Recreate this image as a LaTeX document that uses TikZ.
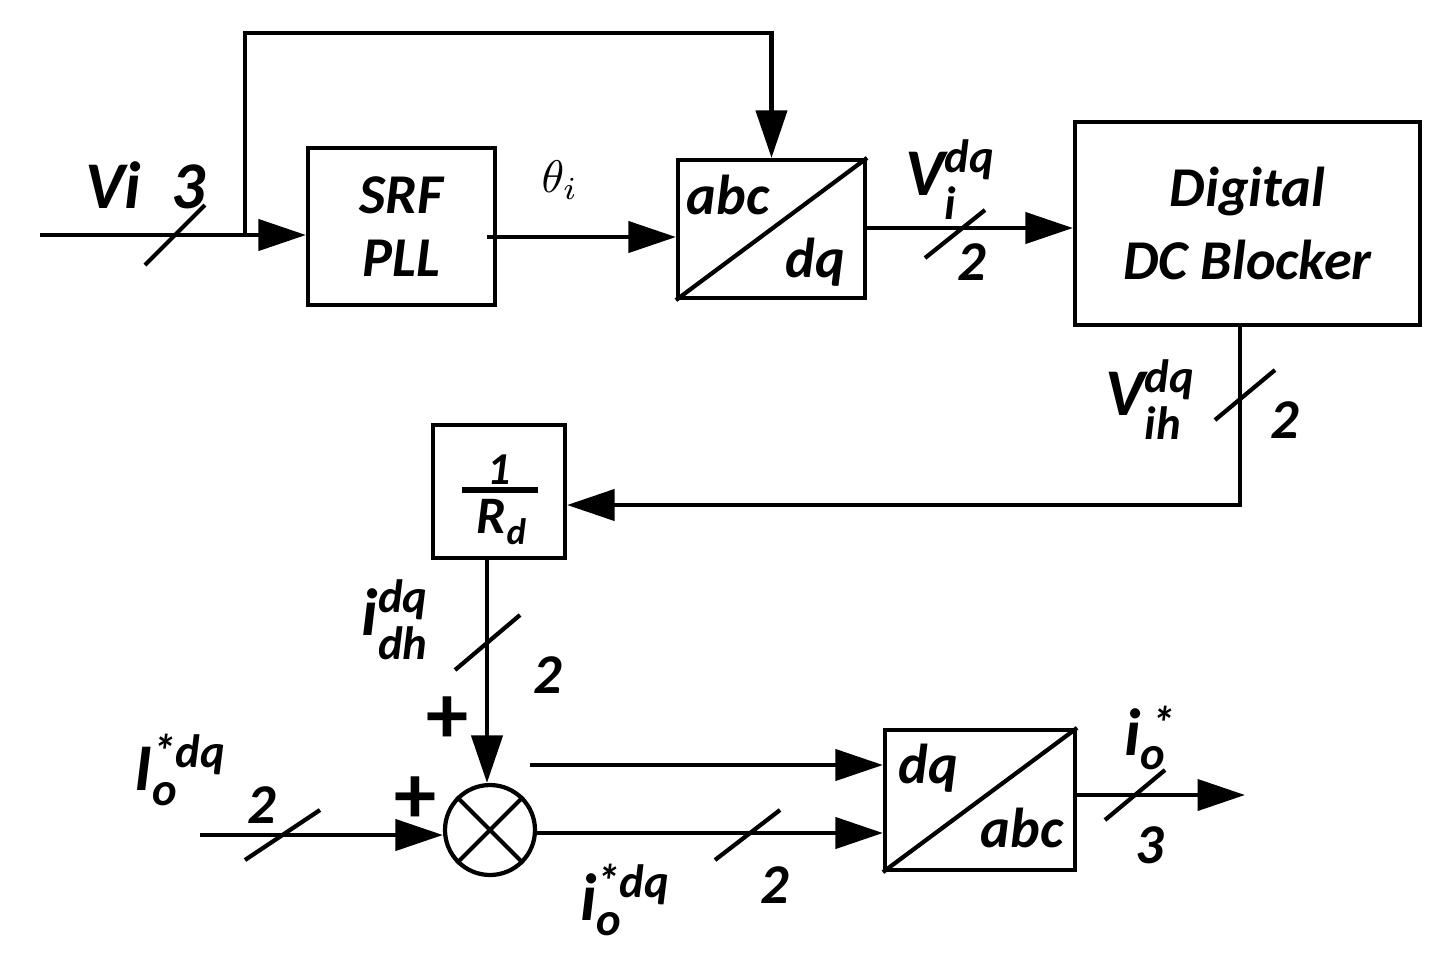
\documentclass[tikz,border=0pt]{standalone}
\usepackage{amsmath}
\usepackage{fontspec}
\setmainfont{Carlito}
\usetikzlibrary{arrows.meta}
\newcommand{\sig}[3]{{\bfseries\itshape #1$_{\text{#2}}^{\text{#3}}$}}
\tikzset{
    blk/.style={draw, line width=2.4pt, inner sep=0pt, align=center, font=\fontsize{32}{38}\selectfont\bfseries\itshape},
    wire/.style={line width=2.4pt},
    arr/.style={wire, -{Triangle[length=0.95cm, width=0.62cm]}},
    lbl/.style={font=\fontsize{38}{42}\selectfont\bfseries\itshape, inner sep=0pt},
    num/.style={font=\fontsize{32}{36}\selectfont\bfseries\itshape, inner sep=0pt}
}
\begin{document}
\begin{tikzpicture}[x=0.02cm, y=-0.02cm]
        \useasboundingbox (0,0) rectangle (1445,965);

        % blocks
        \node[blk, minimum width=3.74cm, minimum height=3.14cm] (srf) at (401.5,226.5) {SRF\\[-2pt]PLL};
        \node[blk, minimum width=3.74cm, minimum height=2.76cm] (abc) at (771.5,229) {};
        \draw[wire] (abc.south west) -- (abc.north east);
        \node[lbl, font=\fontsize{32}{36}\selectfont\bfseries\itshape] at (728,195) {abc};
        \node[lbl, font=\fontsize{32}{36}\selectfont\bfseries\itshape] at (815,262) {dq};
        \node[blk, minimum width=6.9cm, minimum height=4.06cm] (dcb) at (1247.5,223.5) {Digital\\[4pt]DC Blocker};
        \node[blk, minimum width=2.64cm, minimum height=2.66cm] (rd) at (499,491.5) {};
        \node[lbl, font=\fontsize{26}{30}\selectfont\bfseries\itshape] at (499,470) {1};
        \draw[line width=3pt] (462,490) -- (538,490);
        \node[lbl, font=\fontsize{30}{34}\selectfont\bfseries\itshape] at (502,522) {R$_{\text{d}}$};
        \node[draw, circle, line width=2.4pt, minimum size=1.8cm, inner sep=0pt] (sum) at (490,830) {};
        \draw[wire] (sum.north west) -- (sum.south east);
        \draw[wire] (sum.north east) -- (sum.south west);
        \node[blk, minimum width=3.8cm, minimum height=2.8cm] (dqa) at (980,800) {};
        \draw[wire] (dqa.south west) -- (dqa.north east);
        \node[lbl, font=\fontsize{32}{36}\selectfont\bfseries\itshape] at (928,768) {dq};
        \node[lbl, font=\fontsize{32}{36}\selectfont\bfseries\itshape] at (1022,828) {abc};

        % end points
        \coordinate (vin) at (40,235);
        \coordinate (br) at (245,235);
        \coordinate (ioin) at (200,835);
        \coordinate (aux) at (530,765);
        \coordinate (out) at (1245,795);

        % connectors
        \draw[arr] (vin) -- (srf.west |- vin);
        \draw[arr] (br) -- (245,33) -- (abc.north |- 0,33) -- (abc.north);
        \draw[arr] (487,237) -- (abc.west |- 0,237);
        \draw[arr] (abc.east |- 0,228) -- (dcb.west |- 0,228);
        \draw[arr] (dcb.south -| 1240,0) -- (1240,505) -- (rd.east |- 0,505);
        \draw[arr] (rd.south -| 487,0) -- (sum.north -| 487,0);
        \draw[arr] (ioin) -- (sum.west |- ioin);
        \draw[arr] (sum.east |- 0,833) -- (dqa.west |- 0,833);
        \draw[arr] (aux) -- (dqa.west |- aux);
        \draw[arr] (dqa.east |- out) -- (out);

        % bus marks
        \foreach \a/\b/\c/\d in {145/265/205/205, 925/258/985/210, 1215/420/1275/370,
                                 455/670/520/615, 245/860/320/810, 715/860/780/810, 1105/820/1165/770}
            \draw[wire] (\a,\b) -- (\c,\d);

        % labels
        \node[lbl] at (145,185) {Vi\ \ 3};
        \node[scale=2.6] at (560,180) {$\theta_{i}$};
        \node[lbl] at (950,180) {\sig{V}{i}{dq}};
        \node[num] at (972,262) {2};
        \node[lbl] at (1150,400) {\sig{V}{ih}{dq}};
        \node[num] at (1285,420) {2};
        \node[lbl] at (395,620) {\sig{i}{dh}{dq}};
        \node[num] at (548,675) {2};
        \node[num, font=\fontsize{48}{50}\selectfont\bfseries] at (447,720) {+};
        \node[lbl] at (180,770) {\sig{I}{o}{*dq}};
        \node[num] at (262,805) {2};
        \node[num, font=\fontsize{48}{50}\selectfont\bfseries] at (415,800) {+};
        \node[lbl] at (625,900) {\sig{i}{o}{*dq}};
        \node[num] at (775,885) {2};
        \node[lbl] at (1150,738) {\sig{i}{o}{\ *}};
        \node[num] at (1150,845) {3};
    \end{tikzpicture}
\end{document}
